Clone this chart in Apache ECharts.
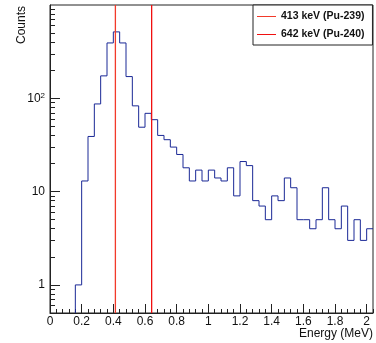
<!DOCTYPE html>
<html>
<head>
<meta charset="utf-8">
<script src="https://cdn.jsdelivr.net/npm/echarts@6/dist/echarts.min.js"></script>
<style>
html,body{margin:0;padding:0;background:#fff;}
#chart{width:376px;height:343px;}
</style>
</head>
<body>
<div id="chart"></div>
<script>
// ---- data ----
const binLow = [0.16,0.20,0.24,0.28,0.32,0.36,0.40,0.44,0.48,0.52,0.56,0.60,0.64,0.68,0.72,0.76,0.80,0.84,0.88,0.92,0.96,1.00,1.04,1.08,1.12,1.16,1.20,1.24,1.28,1.32,1.36,1.40,1.44,1.48,1.52,1.56,1.60,1.64,1.68,1.72,1.76,1.80,1.84,1.88,1.92,1.96,2.00];
const counts = [1,13,39,87,174,392,515,392,171,83,49,69,59,40,36,30,25,18,13,17,13,17,14,13,18,9,21,19,8,7,5,9,8,14,11,5,5,4,5,11,5,4,7,3,5,3,4];
const BIN_WIDTH = 0.04;
const lineEnergies = [0.413, 0.642];
const lineNames = ['413 keV (Pu-239)', '642 keV (Pu-240)'];
const xTickLabels = [0,0.2,0.4,0.6,0.8,1,1.2,1.4,1.6,1.8,2];
const yTickLabels = [1,10,100];
const yMinorTicks = [0.6,0.7,0.8,0.9,2,3,4,5,6,7,8,9,20,30,40,50,60,70,80,90,200,300,400,500,600,700,800,900];
const X_MIN = 0, X_MAX = 2.04;
const Y_MIN = 0.5, Y_MAX = 1000;

// minor x ticks every bin width, excluding major ones
const xMinorTicks = [];
for (let i = 1; i <= 51; i++) {
  const v = Math.round(i * BIN_WIDTH * 100) / 100;
  if (Math.abs(v * 5 - Math.round(v * 5)) > 1e-6) xMinorTicks.push(v);
}

// histogram step data
const histData = [[binLow[0], Y_MIN]];
binLow.forEach((x, i) => histData.push([x, counts[i]]));
histData.push([Math.round((binLow[binLow.length-1] + BIN_WIDTH)*100)/100, counts[counts.length-1]]);

const FONT = 'Liberation Sans, Arial, Helvetica, sans-serif';
const chart = echarts.init(document.getElementById('chart'), null, {renderer:'canvas'});

const redColors = ['#f23a2a', '#f01010'];
const lineSeries = lineEnergies.map((e, i) => ({
  name: lineNames[i],
  type: 'line',
  xAxisIndex: 0, yAxisIndex: 0,
  data: [[e, Y_MIN], [e, Y_MAX]],
  symbol: 'none',
  lineStyle: {color: redColors[i], width: 1.3, opacity: 1},
  itemStyle: {color: redColors[i]},
  emphasis: {disabled: true},
  silent: true,
  z: 3
}));

chart.setOption({
  animation: false,
  backgroundColor: '#fff',
  grid: {left: 50, right: 3, top: 5, bottom: 30, show: true, borderColor: '#222', borderWidth: 1, containLabel: false},
  xAxis: [{
    type: 'value', min: X_MIN, max: X_MAX, position: 'bottom',
    axisLine: {show: true, onZero: false, lineStyle: {color: '#222', width: 1}},
    axisTick: {show: true, inside: true, length: 9, customValues: xTickLabels, lineStyle: {color: '#222'}},
    axisLabel: {show: true, customValues: xTickLabels, margin: 3, fontSize: 12, color: '#111', fontFamily: FONT},
    splitLine: {show: false}
  }, {
    type: 'value', min: X_MIN, max: X_MAX, position: 'bottom',
    axisLine: {show: false},
    axisTick: {show: true, inside: true, length: 4, customValues: xMinorTicks, lineStyle: {color: '#222'}},
    axisLabel: {show: false},
    splitLine: {show: false}
  }],
  yAxis: [{
    type: 'log', min: Y_MIN, max: Y_MAX, logBase: 10, position: 'left',
    axisLine: {show: true, onZero: false, lineStyle: {color: '#222', width: 1}},
    axisTick: {show: true, inside: true, length: 10, customValues: yTickLabels, lineStyle: {color: '#222'}},
    axisLabel: {
      show: true, customValues: yTickLabels, margin: 5, fontSize: 12, color: '#111', fontFamily: FONT,
      formatter: function (v) {
        const p = Math.round(Math.log10(v));
        if (p <= 1) return String(Math.round(v));
        return '10{sup|' + p + '}';
      },
      rich: {sup: {fontSize: 8, verticalAlign: 'top', padding: [0,0,6,0], fontFamily: FONT, color: '#111'}}
    },
    splitLine: {show: false}
  }, {
    type: 'log', min: Y_MIN, max: Y_MAX, logBase: 10, position: 'left',
    axisLine: {show: false},
    axisTick: {show: true, inside: true, length: 5, customValues: yMinorTicks, lineStyle: {color: '#222'}},
    axisLabel: {show: false},
    splitLine: {show: false}
  }],
  legend: {
    orient: 'vertical', left: 253, top: 5,
    data: lineNames,
    icon: 'rect', itemWidth: 19, itemHeight: 1, itemGap: 5,
    padding: [5, 8, 4, 4],
    borderColor: '#222', borderWidth: 1, backgroundColor: '#fff',
    textStyle: {fontSize: 10.5, fontWeight: 'bold', color: '#111', fontFamily: FONT, lineHeight: 13},
    selectedMode: false
  },
  graphic: [
    {type: 'text', x: 22, y: 6, rotation: Math.PI/2,
     style: {text: 'Counts', fontSize: 12, fontFamily: FONT, fill: '#111', align: 'right', verticalAlign: 'middle'}},
    {type: 'text', x: 373, y: 334,
     style: {text: 'Energy (MeV)', fontSize: 12, fontFamily: FONT, fill: '#111', align: 'right', verticalAlign: 'middle'}}
  ],
  series: [{
    name: 'hist',
    type: 'line',
    xAxisIndex: 0, yAxisIndex: 0,
    step: 'end',
    data: histData,
    symbol: 'none',
    lineStyle: {color: '#1a2896', width: 1},
    emphasis: {disabled: true},
    clip: true,
    silent: true,
    z: 2
  }].concat(lineSeries)
});
</script>
</body>
</html>
